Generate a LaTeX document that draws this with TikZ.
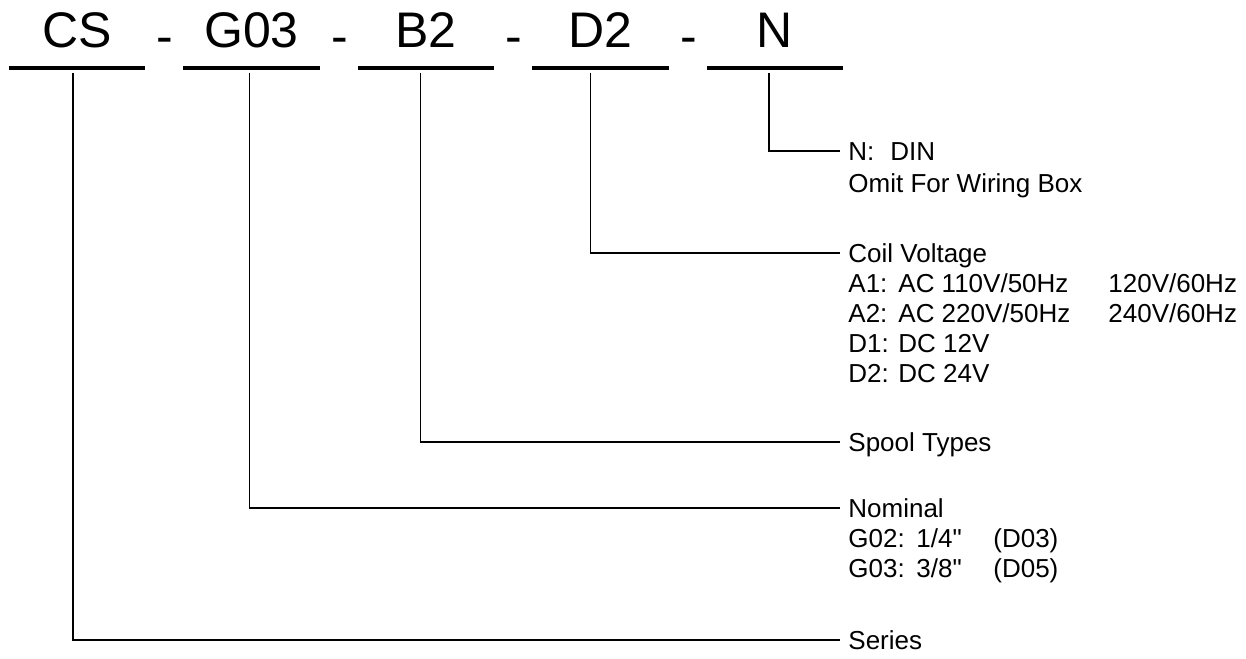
\documentclass[tikz,border=0pt]{standalone}
\usepackage{fontspec}
\setmainfont{Liberation Sans}
\newfontfamily\plainsans{Liberation Sans}
\usetikzlibrary{positioning}

\newcommand{\codefont}{\fontsize{25}{30}\selectfont}
\newcommand{\descfont}{\fontsize{13}{15}\selectfont}
\newcommand{\inchmark}{{\plainsans\symbol{34}}}

\begin{document}
\begin{tikzpicture}[link/.style={draw, line width=0.9pt, shorten <=2.5pt}, fieldline/.style={draw, line width=2.4pt}]
    % Define styles for code fields, separators and descriptions
    \tikzstyle{field} = [font=\codefont, minimum width=68pt, text height=18pt, text depth=0pt, inner xsep=0pt, inner ysep=10pt]
    \tikzstyle{dashsym} = [font=\codefont, text height=18pt, text depth=0pt, inner xsep=0pt, inner ysep=10pt]
    \tikzstyle{desc} = [font=\descfont, text height=9pt, text depth=0pt, inner xsep=4pt, inner ysep=0pt]
    \tikzstyle{desclist} = [font=\descfont, inner xsep=4pt, inner ysep=0pt]

    \useasboundingbox (0,0) rectangle (623pt,-329pt);

    % Code fields placement
    \node [field, anchor=south] (cs) at (38.5pt,-34pt) {CS};
    \node [field, right of=cs, node distance=87.25pt] (g03) {G03};
    \node [field, right of=g03, node distance=87.25pt] (b2) {B2};
    \node [field, right of=b2, node distance=87.25pt] (d2) {D2};
    \node [field, right of=d2, node distance=87.25pt] (nfield) {N};

    \node [dashsym, right of=cs, node distance=44pt, yshift=-3pt] (dash1) {-};
    \node [dashsym, right of=g03, node distance=44pt, yshift=-3pt] (dash2) {-};
    \node [dashsym, right of=b2, node distance=44pt, yshift=-3pt] (dash3) {-};
    \node [dashsym, right of=d2, node distance=44pt, yshift=-3pt] (dash4) {-};

    \foreach \f in {cs,g03,b2,d2,nfield}
        \draw [fieldline] (\f.south west) -- (\f.south east);

    % Description placement
    \node [desc, anchor=west] (din) at (420pt,-75.5pt) {\makebox[21pt][l]{N:}DIN};
    \node [desclist, anchor=base west] (dinlist) at ([yshift=-16pt]din.base west) {Omit For Wiring Box};

    \node [desc, anchor=west] (coil) at (420pt,-126.5pt) {Coil Voltage};
    \node [desclist, anchor=base west] (coillist) at ([yshift=-15pt]coil.base west) {%
        \begin{tabular}[t]{@{}p{25pt}@{}p{105pt}@{}l@{}}
            A1: & AC 110V/50Hz & 120V/60Hz\\
            A2: & AC 220V/50Hz & 240V/60Hz\\
            D1: & DC 12V & \\
            D2: & DC 24V &
        \end{tabular}};

    \node [desc, anchor=west] (spool) at (420pt,-221pt) {Spool Types};

    \node [desc, anchor=west] (nominal) at (420pt,-254pt) {Nominal};
    \node [desclist, anchor=base west] (nominallist) at ([yshift=-15pt]nominal.base west) {%
        \begin{tabular}[t]{@{}p{34pt}@{}p{38.5pt}@{}l@{}}
            G02: & 1/4\inchmark & (D03)\\
            G03: & 3/8\inchmark & (D05)
        \end{tabular}};

    \node [desc, anchor=west] (series) at (420pt,-320pt) {Series};

    % Draw connectors
    \draw [link] ([xshift=-2pt]cs.south) |- (series.west);
    \draw [link] ([xshift=-1pt]g03.south) |- (nominal.west);
    \draw [link] ([xshift=-2.75pt]b2.south) |- (spool.west);
    \draw [link] ([xshift=-5pt]d2.south) |- (coil.west);
    \draw [link] ([xshift=-3pt]nfield.south) |- (din.west);
\end{tikzpicture}
\end{document}
